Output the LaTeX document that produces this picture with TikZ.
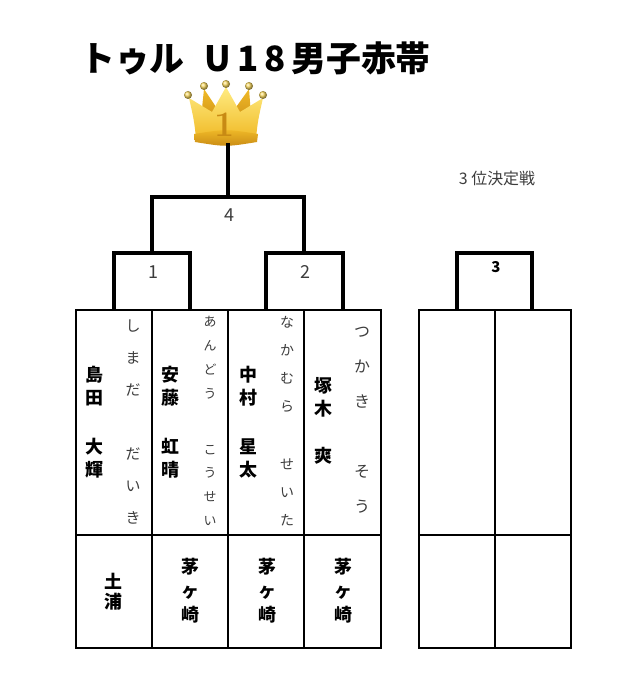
\documentclass[tikz,border=0pt]{standalone}
\usepackage{fontspec}
\newfontfamily\jp{Noto Sans CJK JP}
\usetikzlibrary{positioning,calc}
\definecolor{crownlight}{RGB}{255,236,130}
\definecolor{crowngold}{RGB}{240,186,40}
\definecolor{crowndark}{RGB}{200,138,20}
\definecolor{kanagray}{RGB}{60,60,60}
\tikzset{
  bracket/.style={line width=4bp},
  cell/.style={line width=1.8bp},
  namelbl/.style={font=\jp\bfseries\fontsize{18}{23}\selectfont,align=center,inner sep=0pt},
  clublbl/.style={font=\jp\bfseries\fontsize{18}{24}\selectfont,align=center,inner sep=0pt},
  kana/.style={text=kanagray,align=center,inner sep=0pt},
  matchno/.style={font=\jp\fontsize{18}{18}\selectfont,text=kanagray,inner sep=0pt}
}
\begin{document}
\begin{tikzpicture}[x=1bp,y=-1bp]
  \useasboundingbox (0,0) rectangle (631,678);
  \node[font=\jp\bfseries\fontsize{35}{35}\selectfont,anchor=west,inner sep=0pt]
    (title) at (80,58) {トゥル\hspace{20bp}U\,1\,8\,男子赤帯};
  \shade[top color=crowngold,bottom color=crowndark]
    (200,128) -- (204,89) -- (218,110) -- (226,100) -- (234,110) -- (249,89) -- (252,128) -- cycle;
  \shade[top color=crownlight,bottom color=crowngold]
    (196,138) .. controls (194,120) .. (189,98) -- (212,112) -- (226,87) -- (240,112)
    -- (263,98) .. controls (258,120) .. (256,138) -- cycle;
  \shade[top color=crowngold,bottom color=crowndark]
    (194,134) .. controls (226,129) .. (258,134) -- (257,142) .. controls (226,147) .. (195,142) -- cycle;
  \foreach \bx/\by in {188/95,204/86,226/84,249/86,263/95}
    \shade[ball color=crownlight!60!crowngold] (\bx,\by) circle (4bp);
  \node[font=\bfseries\fontsize{36}{36}\selectfont,text=crowndark,inner sep=0pt] (one) at (225,125) {1};
  \coordinate (crown) at (228,143);
  \coordinate (p1) at (114,310);
  \coordinate (p2) at (190,310);
  \coordinate (p3) at (266,310);
  \coordinate (p4) at (343,310);
  \coordinate (q1) at (457,310);
  \coordinate (q2) at (532,310);
  \coordinate (m1) at (152,253);
  \coordinate (m2) at (304,253);
  \coordinate (m3) at (494,253);
  \coordinate (m4) at (228,197);
  \draw[bracket] (p1) |- (m1) -| (p2);
  \draw[bracket] (p3) |- (m2) -| (p4);
  \draw[bracket] (m1) |- (m4) -| (m2);
  \draw[bracket] (m4) -- (crown);
  \draw[bracket] (q1) |- (m3) -| (q2);
  \node[matchno] (no4) at (229,215) {4};
  \node[matchno] (no1) at (153,272) {1};
  \node[matchno] (no2) at (305,272) {2};
  \node[font=\jp\bfseries\fontsize{15}{15}\selectfont,inner sep=0pt] (no3) at (496,267) {3};
  \node[font=\jp\fontsize{16}{16}\selectfont,text=kanagray] (third) at (497,178) {3 位決定戦};
  \draw[cell] (76,310) rectangle (381,648);
  \draw[cell] (76,535) -- (381,535);
  \draw[cell] (152,310) -- (152,648);
  \draw[cell] (228,310) -- (228,648);
  \draw[cell] (304,310) -- (304,648);
  \draw[cell] (419,310) rectangle (571,648);
  \draw[cell] (419,535) -- (571,535);
  \draw[cell] (495,310) -- (495,648);
  \node[namelbl] (name1) at (94,422) {島\\田\\[26bp]大\\輝};
  \node[namelbl] (name2) at (170,422) {安\\藤\\[26bp]虹\\晴};
  \node[namelbl] (name3) at (248,422) {中\\村\\[26bp]星\\太};
  \node[namelbl] (name4) at (323,421) {塚\\木\\[24bp]爽};
  \node[kana,font=\jp\fontsize{15}{32}\selectfont] (yomi1) at (133,422) {し\\ま\\だ\\[33bp]だ\\い\\き};
  \node[kana,font=\jp\fontsize{13}{24}\selectfont] (yomi2) at (210,421) {あ\\ん\\ど\\う\\[32bp]こ\\う\\せ\\い};
  \node[kana,font=\jp\fontsize{14}{28}\selectfont] (yomi3) at (287,421) {な\\か\\む\\ら\\[30bp]せ\\い\\た};
  \node[kana,font=\jp\fontsize{16}{35}\selectfont] (yomi4) at (362,420) {つ\\か\\き\\[35bp]そ\\う};
  \node[clublbl,font=\jp\bfseries\fontsize{18}{20}\selectfont] (club1) at (113,592) {土\\浦};
  \node[clublbl] (club2) at (190,591) {茅\\ヶ\\崎};
  \node[clublbl] (club3) at (267,591) {茅\\ヶ\\崎};
  \node[clublbl] (club4) at (343,591) {茅\\ヶ\\崎};
\end{tikzpicture}
\end{document}
